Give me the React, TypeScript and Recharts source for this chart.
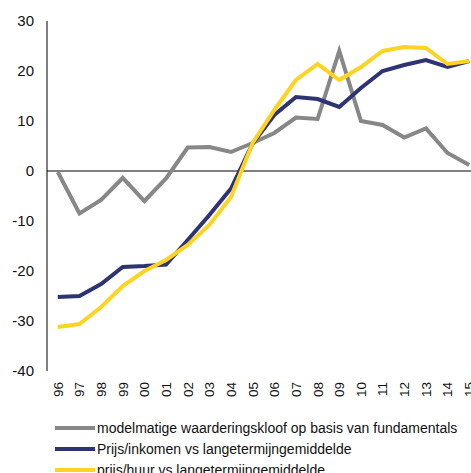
import { LineChart, Line, XAxis, YAxis, ReferenceLine, Legend } from "recharts";

const years = ["96", "97", "98", "99", "00", "01", "02", "03", "04", "05", "06", "07", "08", "09", "10", "11", "12", "13", "14", "15"];
const waarderingskloof = [-0.2, -8.5, -5.8, -1.4, -6, -1.5, 4.7, 4.8, 3.8, 5.6, 7.6, 10.7, 10.4, 24, 10, 9.2, 6.7, 8.5, 3.6, 1.2];
const prijsInkomen = [-25.2, -25, -22.6, -19.2, -19, -18.7, -13.8, -8.8, -3.5, 5.5, 11.2, 14.8, 14.4, 12.8, 16.6, 20, 21.2, 22.2, 20.8, 22];
const prijsHuur = [-31.2, -30.6, -27.2, -23, -20, -17.8, -14.8, -10.8, -5.2, 5.6, 12.2, 18.2, 21.4, 18.2, 20.8, 24, 24.8, 24.6, 21.4, 22];
const yTicks = [-40, -30, -20, -10, 0, 10, 20, 30];

const series = [
  { key: "kloof", name: "modelmatige waarderingskloof op basis van fundamentals", color: "#878787" },
  { key: "inkomen", name: "Prijs/inkomen vs langetermijngemiddelde", color: "#2E3473" },
  { key: "huur", name: "prijs/huur vs langetermijngemiddelde", color: "#FFD420" },
];

const data = years.map((y, i) => ({
  year: y,
  kloof: waarderingskloof[i],
  inkomen: prijsInkomen[i],
  huur: prijsHuur[i],
}));

const font = "'Liberation Sans', Arial, sans-serif";

const YearTick = (props: any) => {
  const { x, y, payload } = props;
  return (
    <g transform={`translate(${x},${y + 11})`}>
      <text x={0} y={0} dy="0.36em" textAnchor="end" transform="rotate(-90)" fontSize={13.5} fill="#111" fontFamily={font}>
        {payload.value}
      </text>
    </g>
  );
};

const renderLegend = () => (
  <div style={{ fontFamily: font, fontSize: 14, color: "#111" }}>
    {series.map((s) => (
      <div key={s.key} style={{ display: "flex", alignItems: "center", height: 21 }}>
        <div style={{ width: 40, height: 4, background: s.color, marginRight: 2 }} />
        <span style={{ whiteSpace: "nowrap" }}>{s.name}</span>
      </div>
    ))}
  </div>
);

export default function App() {
  return (
    <div style={{ position: "fixed", left: 0, top: 0, width: 471, height: 473, overflow: "hidden", background: "#fff" }}>
      <LineChart width={480} height={500} data={data} margin={{ top: 21, right: 0, left: 0, bottom: 89 }}>
        <XAxis
          dataKey="year"
          axisLine={false}
          tickLine={false}
          tickSize={0}
          tickMargin={0}
          height={40}
          interval={0}
          padding={{ left: 10.8, right: 10.8 }}
          tick={<YearTick />}
        />
        <YAxis
          domain={[-40, 30]}
          ticks={yTicks}
          width={47}
          axisLine={{ stroke: "#000", strokeWidth: 1 }}
          tickLine={false}
          tickSize={0}
          tickMargin={13}
          interval={0}
          tick={{ fontSize: 15, fill: "#111", fontFamily: font }}
        />
        <ReferenceLine y={0} stroke="#000" strokeWidth={1} />
        {series.map((s) => (
          <Line
            key={s.key}
            dataKey={s.key}
            name={s.name}
            stroke={s.color}
            strokeWidth={4}
            dot={false}
            type="linear"
            isAnimationActive={false}
          />
        ))}
        <Legend
          layout="vertical"
          align="center"
          verticalAlign="middle"
          content={renderLegend}
          wrapperStyle={{ position: "absolute", left: 55, top: 417, width: 430 }}
        />
      </LineChart>
    </div>
  );
}
